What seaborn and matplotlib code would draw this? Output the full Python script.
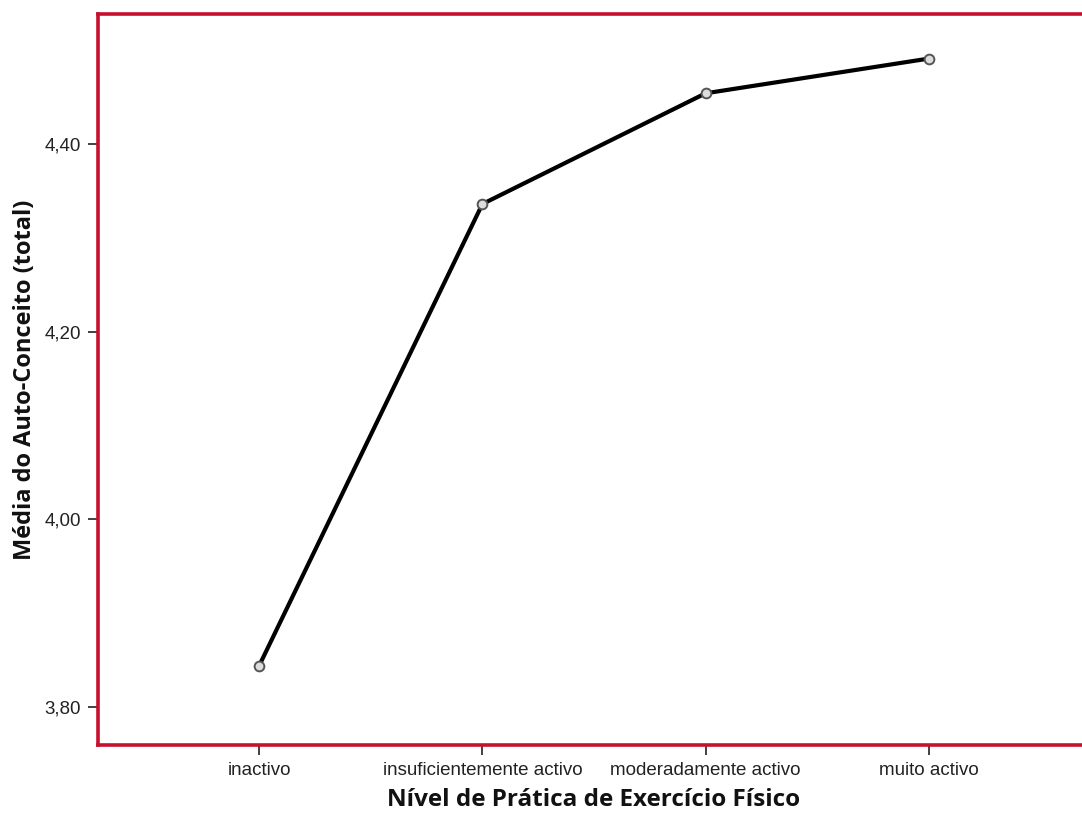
import matplotlib
matplotlib.use('Agg')
import matplotlib.pyplot as plt
from matplotlib.ticker import FuncFormatter
import seaborn as sns
import pandas as pd

categorias = ['inactivo', 'insuficientemente activo', 'moderadamente activo', 'muito activo']
medias = [3.844, 4.336, 4.454, 4.491]
y_ticks = [3.80, 4.00, 4.20, 4.40]

sns.set_theme(style='white')
plt.rcParams['font.family'] = ['Liberation Sans', 'DejaVu Sans']

df = pd.DataFrame({'nivel': categorias, 'media': medias})

fig = plt.figure(figsize=(10.82, 8.13), dpi=100)
ax = fig.add_axes([98 / 1082, 68 / 813, 992 / 1082, 731 / 813])

sns.lineplot(data=df, x='nivel', y='media', sort=False, ax=ax,
             color='black', linewidth=3.0, marker='o', markersize=7,
             markerfacecolor='#dddddd', markeredgecolor='#555555', markeredgewidth=1.4)

ax.set_xlim(-0.722, 3.722)
ax.set_ylim(3.7595, 4.5385)
ax.set_yticks(y_ticks)
ax.yaxis.set_major_formatter(FuncFormatter(lambda v, p: f'{v:.2f}'.replace('.', ',')))

for s in ax.spines.values():
    s.set_color('#c8102e')
    s.set_linewidth(2.6)
ax.spines['right'].set_visible(False)

ax.tick_params(axis='both', direction='out', length=7, width=1.3, color='#333333',
               labelsize=13.5, labelcolor='#222222', pad=5, left=True, bottom=True)

ax.set_xlabel('Nível de Prática de Exercício Físico', fontsize=17.5, fontweight='bold',
              family=['Open Sans', 'DejaVu Sans'], color='#111111')
ax.set_ylabel('Média do Auto-Conceito (total)', fontsize=17, fontweight='bold',
              family=['Open Sans', 'DejaVu Sans'], color='#111111')
ax.xaxis.set_label_coords(0.5, -0.059)
ax.yaxis.set_label_coords(-0.061, 0.5)

fig.savefig('out.png', dpi=100)
